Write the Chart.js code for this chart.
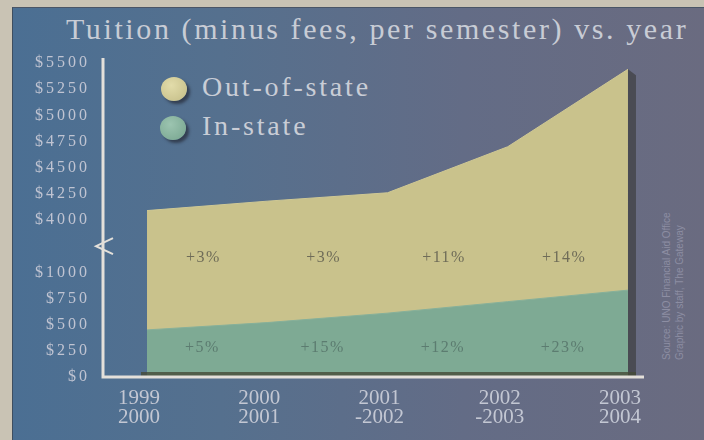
<!DOCTYPE html>
<html><head><meta charset="utf-8">
<script src="https://cdn.jsdelivr.net/npm/chart.js@4/dist/chart.umd.min.js"></script>
<style>
html,body{margin:0;padding:0;}
body{width:704px;height:440px;overflow:hidden;}
#wrap{position:relative;width:704px;height:440px;background:#c9c3b4;}
#panel{position:absolute;left:12px;top:7px;width:692px;height:433px;border-left:1px solid #3e4e60;border-top:1px solid #4a5566;background:linear-gradient(90deg,#4b6f93 0%,#55708e 30%,#636c86 65%,#6a6b80 100%);}
#title{position:absolute;left:66px;top:12px;font-family:'Liberation Serif','DejaVu Serif',serif;font-size:30px;color:#c8ccd5;letter-spacing:2.6px;white-space:nowrap;}
.leg{position:absolute;font-family:'Liberation Serif','DejaVu Serif',serif;font-size:28px;color:#c9cdd6;letter-spacing:2.8px;white-space:nowrap;}
.dot{position:absolute;width:26px;height:24px;border-radius:50%;box-shadow:3px 3px 3px rgba(30,30,40,0.6);}
#credit{position:absolute;left:660px;top:360px;transform-origin:0 0;transform:rotate(-90deg);font-family:'Liberation Sans',sans-serif;font-size:10px;line-height:13px;color:#8d8ea3;white-space:nowrap;}
canvas{position:absolute;left:0;top:0;}
</style>
</head><body>
<div id="wrap">
<div id="panel"></div>
<div id="title">Tuition (minus fees, per semester) vs. year</div>
<div class="dot" style="left:161px;top:77px;background:radial-gradient(circle at 40% 35%,#e2dcaa,#c3bc86);"></div>
<div class="leg" style="left:202px;top:71px;">Out-of-state</div>
<div class="dot" style="left:160px;top:116px;background:radial-gradient(circle at 40% 35%,#9cc4b0,#76a48e);"></div>
<div class="leg" style="left:202px;top:110px;">In-state</div>
<div id="credit">Source: UNO Financial Aid Office<br>Graphic by staff, The Gateway</div>
<canvas id="c" width="704" height="440"></canvas>
</div>
<script>
const years = [['1999','2000'],['2000','2001'],['2001','-2002'],['2002','-2003'],['2003','2004']];
const outOfState = [4090, 4180, 4260, 4700, 5440];
const inState = [450, 520, 610, 720, 830];
const outPct = ['+3%','+3%','+11%','+14%'];
const inPct = ['+5%','+15%','+12%','+23%'];
const tickValues = [0, 250, 500, 750, 1000, 4000, 4250, 4500, 4750, 5000, 5250, 5500];

// broken axis: values above the break are shifted down
const BREAK_LOW = 1000, BREAK_HIGH = 4000, GAP = 500;
function toAxis(v){ return v <= BREAK_LOW ? v : v - (BREAK_HIGH - BREAK_LOW) + GAP; }
function fromAxis(d){ return d <= BREAK_LOW ? d : d + (BREAK_HIGH - BREAK_LOW) - GAP; }

const decor = {
  id:'decor',
  beforeDatasetsDraw(chart){
    const {ctx, scales:{x,y}} = chart;
    const xr = x.getPixelForValue(years.length-1);
    const yt = y.getPixelForValue(toAxis(outOfState[outOfState.length-1]));
    ctx.save();
    ctx.fillStyle = 'rgba(50,50,45,0.55)';
    ctx.beginPath();
    ctx.moveTo(xr, yt); ctx.lineTo(xr+8, yt+6); ctx.lineTo(xr+8, y.getPixelForValue(0)+1); ctx.lineTo(xr, y.getPixelForValue(0)+1); ctx.closePath(); ctx.fill();
    ctx.restore();
  },
  afterDatasetsDraw(chart){
    const {ctx, scales:{x,y}} = chart;
    ctx.save();
    ctx.fillStyle = 'rgba(70,75,55,0.8)';
    ctx.fillRect(x.getPixelForValue(0)-6, y.getPixelForValue(0)-5, x.getPixelForValue(years.length-1)-x.getPixelForValue(0)+14, 5);
    ctx.font = '16px "Liberation Serif", serif';
    ctx.letterSpacing = '1.5px';
    ctx.textAlign = 'center'; ctx.textBaseline = 'middle';
    ctx.fillStyle = '#6f6c58';
    outPct.forEach((t,i)=>ctx.fillText(t, x.getPixelForValue(i+0.47), y.getPixelForValue(1137)));
    ctx.fillStyle = '#5c7c70';
    inPct.forEach((t,i)=>ctx.fillText(t, x.getPixelForValue(i+0.46), y.getPixelForValue(275)));
    // y tick labels
    ctx.font = '16px "Liberation Serif", serif';
    ctx.letterSpacing = '3px';
    ctx.textAlign = 'right';
    ctx.fillStyle = '#c0c4d2';
    y.ticks.forEach(t=>ctx.fillText('$' + fromAxis(t.value), chart.chartArea.left - 13, y.getPixelForValue(t.value)));
    ctx.letterSpacing = '0px';
    // axes
    ctx.strokeStyle = '#e4e0da'; ctx.lineWidth = 3; ctx.lineCap = 'butt';
    const ax = chart.chartArea.left, ay = y.getPixelForValue(0);
    ctx.beginPath(); ctx.moveTo(ax, chart.chartArea.top - 5); ctx.lineTo(ax, ay); ctx.lineTo(chart.chartArea.right+4, ay); ctx.stroke();
    const by = y.getPixelForValue(1250);
    ctx.lineWidth = 2;
    ctx.beginPath(); ctx.moveTo(ax+10, by-8); ctx.lineTo(ax-7, by); ctx.lineTo(ax+10, by+8); ctx.stroke();
    ctx.restore();
  }
};

new Chart(document.getElementById('c'), {
  type:'line',
  data:{
    datasets:[
      {label:'In-state', data: inState.map((v,i)=>({x:i,y:toAxis(v)})), fill:'origin', backgroundColor:'#7eaa94', borderColor:'#86b09a', borderWidth:1, pointRadius:0, tension:0, order:1},
      {label:'Out-of-state', data: outOfState.map((v,i)=>({x:i,y:toAxis(v)})), fill:'origin', backgroundColor:'#c9c28c', borderColor:'#cfc894', borderWidth:1, pointRadius:0, tension:0, order:2}
    ]
  },
  plugins:[decor],
  options:{
    responsive:false, animation:false,
    layout:{padding:{left:13,right:64,top:63,bottom:0}},
    plugins:{legend:{display:false}, tooltip:{enabled:false}, title:{display:false}},
    scales:{
      x:{type:'linear', min:-0.366, max:4.1,
        afterBuildTicks(s){ s.ticks = years.map((_,i)=>({value:i})); },
        afterFit(s){ s.height = 63; },
        grid:{display:false, drawTicks:false}, border:{display:false},
        ticks:{padding:12, labelOffset:-8, color:'#c3c7d3', font:{family:'"Liberation Serif", serif', size:21, lineHeight:0.9}, maxRotation:0, autoSkip:false,
          callback(v){ return years[v]; }}
      },
      y:{type:'linear', min:0, max:3000,
        afterBuildTicks(s){ s.ticks = tickValues.map(v=>({value:toAxis(v)})); },
        afterFit(s){ s.width = 90; },
        grid:{display:false, drawTicks:false}, border:{display:false},
        ticks:{display:false}
      }
    }
  }
});
</script>
</body></html>
